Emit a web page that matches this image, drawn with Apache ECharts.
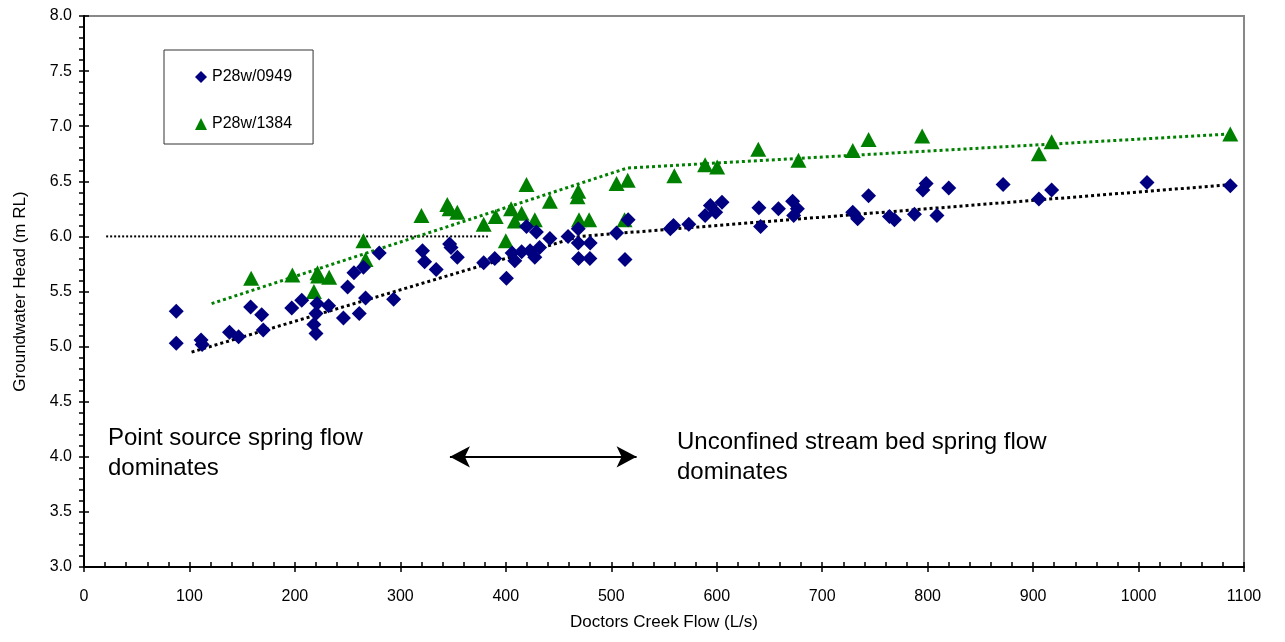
<!DOCTYPE html>
<html><head><meta charset="utf-8">
<script src="https://cdn.jsdelivr.net/npm/echarts@6/dist/echarts.min.js"></script>
<style>html,body{margin:0;padding:0;background:#fff}#c{width:1285px;height:642px}</style>
</head><body><div id="c"></div>
<script>
const seriesNames = ['P28w/0949', 'P28w/1384'];
const flow0949 = [87.5,87.5,111,112,138,146.6,158,168.5,170,197,206.5,221,220,218,220,232,246,250,256,265,280,261,267,293.6,321,323,334,346.7,348,354,379,389.5,400.6,408.5,406,415,423,427.5,432,419.6,429,441.8,459,468.7,468.7,480,469,479.7,505,513,516,556,559,573.5,589,594,599,605,640,641.6,658.5,672,676.5,673,729,733.6,744,763.8,768.5,787.5,795.5,798.6,808.8,820,871.6,905.5,917.6,1008,1087];
const head0949 = [5.32,5.03,5.06,5.02,5.13,5.09,5.36,5.29,5.15,5.35,5.42,5.39,5.30,5.20,5.12,5.37,5.26,5.54,5.67,5.72,5.85,5.30,5.44,5.43,5.87,5.77,5.70,5.93,5.90,5.81,5.76,5.80,5.62,5.78,5.85,5.86,5.87,5.81,5.90,6.09,6.04,5.98,6.00,6.07,5.94,5.94,5.80,5.80,6.03,5.79,6.15,6.07,6.10,6.11,6.19,6.28,6.22,6.31,6.26,6.09,6.25,6.32,6.25,6.19,6.22,6.16,6.37,6.18,6.15,6.20,6.42,6.48,6.19,6.44,6.47,6.34,6.42,6.49,6.46];
const flow1384 = [158.5,197.6,221.4,222,232.5,218,265,267,320,344.5,346.7,354,379,390.4,400,405,408.5,415,419.6,427.5,441.8,468.7,468,469.4,479,505,515.6,512.6,559.8,589,600.4,639.4,677.5,729,744,794.8,905.5,917.6,1087];
const head1384 = [5.62,5.65,5.67,5.64,5.63,5.50,5.96,5.79,6.19,6.29,6.25,6.22,6.11,6.18,5.96,6.25,6.14,6.21,6.47,6.15,6.32,6.41,6.36,6.15,6.15,6.48,6.51,6.15,6.55,6.65,6.63,6.79,6.69,6.78,6.88,6.91,6.75,6.86,6.93];
const trend0949X = [102, 470, 1088];
const trend0949Y = [4.95, 6.0, 6.47];
const trend1384X = [121, 515, 1088];
const trend1384Y = [5.39, 6.62, 6.93];
const refLineX = [21, 383];
const refLineY = [6.0, 6.0];
const arrowX = [347, 524];
const arrowY = 4.0;
const annotationLeft = 'Point source spring flow\ndominates';
const annotationRight = 'Unconfined stream bed spring flow\ndominates';
const xTitle = 'Doctors Creek Flow (L/s)';
const yTitle = 'Groundwater Head (m RL)';

const pairs = (xs, ys) => xs.map((x, i) => [x, Array.isArray(ys) ? ys[i] : ys]);
const FONT = '"Liberation Sans", Arial, sans-serif';

const chart = echarts.init(document.getElementById('c'), null, {renderer: 'canvas'});
const baseX = {type: 'value', min: 0, max: 1100, interval: 100, splitLine: {show: false}};
const baseY = {type: 'value', min: 3, max: 8, interval: 0.5, splitLine: {show: false}};
chart.setOption({
  animation: false,
  backgroundColor: '#fff',
  grid: {left: 84, right: 41, top: 16, bottom: 75, show: true, borderColor: '#888', borderWidth: 2},
  xAxis: [
    Object.assign({}, baseX, {
      position: 'bottom',
      axisLine: {lineStyle: {color: '#000', width: 2}},
      axisTick: {inside: true, length: 5, lineStyle: {color: '#000', width: 1.5}},
      minorTick: {show: true, splitNumber: 5, length: 5, lineStyle: {color: '#000', width: 1.5}},
      axisLabel: {fontSize: 16, color: '#000', fontFamily: FONT, margin: 22, formatter: v => String(v)},
      name: xTitle, nameLocation: 'middle', nameGap: 47,
      nameTextStyle: {fontSize: 17, color: '#000', fontFamily: FONT}
    }),
    Object.assign({}, baseX, {
      position: 'bottom', offset: 0,
      axisLine: {show: false},
      axisTick: {inside: false, length: 5, lineStyle: {color: '#000', width: 1.5}},
      axisLabel: {show: false}
    })
  ],
  yAxis: [
    Object.assign({}, baseY, {
      position: 'left',
      axisLine: {lineStyle: {color: '#000', width: 2}},
      axisTick: {inside: false, length: 5, lineStyle: {color: '#000', width: 1.5}},
      minorTick: {show: true, splitNumber: 5, length: 5, lineStyle: {color: '#000', width: 1.5}},
      axisLabel: {fontSize: 16, color: '#000', fontFamily: FONT, margin: 12, formatter: v => v.toFixed(1)},
      name: yTitle, nameLocation: 'middle', nameGap: 55, nameRotate: 90,
      nameTextStyle: {fontSize: 17, color: '#000', fontFamily: FONT}
    }),
    Object.assign({}, baseY, {
      position: 'left', offset: 0,
      axisLine: {show: false},
      axisTick: {inside: true, length: 5, lineStyle: {color: '#000', width: 1.5}},
      axisLabel: {show: false}
    })
  ],
  legend: {
    data: [{name: seriesNames[0], icon: 'diamond'}, {name: seriesNames[1], icon: 'triangle'}],
    orient: 'vertical', left: 164, top: 50,
    padding: [19, 21, 12, 31], itemGap: 31, itemWidth: 12, itemHeight: 12,
    backgroundColor: '#fff', borderColor: '#333', borderWidth: 1, borderRadius: 0,
    textStyle: {fontSize: 16, color: '#000', fontFamily: FONT},
    selectedMode: false
  },
  graphic: [
    {type: 'text', left: 108, top: 423, style: {text: annotationLeft, font: '24px ' + FONT, fill: '#000', lineHeight: 30}},
    {type: 'text', left: 677, top: 427, style: {text: annotationRight, font: '24px ' + FONT, fill: '#000', lineHeight: 30}}
  ],
  series: [
    {
      name: 'ref', type: 'line', data: pairs(refLineX, refLineY), showSymbol: false, silent: true,
      lineStyle: {color: '#000', width: 2, type: [2, 2]}, z: 1,
      markLine: {
        silent: true, symbol: ['arrow', 'arrow'], symbolSize: [16, 20], label: {show: false},
        lineStyle: {color: '#000', width: 2, type: 'solid'},
        data: [[{coord: [arrowX[0], arrowY]}, {coord: [arrowX[1], arrowY]}]]
      }
    },
    {name: 'trend0949', type: 'line', data: pairs(trend0949X, trend0949Y), showSymbol: false, silent: true,
      lineStyle: {color: '#000', width: 3, type: [3, 3], cap: 'butt'}, z: 1},
    {name: 'trend1384', type: 'line', data: pairs(trend1384X, trend1384Y), showSymbol: false, silent: true,
      lineStyle: {color: '#008000', width: 3, type: [3, 3], cap: 'butt'}, z: 1},
    {name: seriesNames[0], type: 'scatter', symbol: 'diamond', symbolSize: 15,
      itemStyle: {color: '#000080', opacity: 1}, data: pairs(flow0949, head0949), z: 3},
    {name: seriesNames[1], type: 'scatter', symbol: 'triangle', symbolSize: [16, 15],
      itemStyle: {color: '#008000', opacity: 1}, data: pairs(flow1384, head1384), z: 2}
  ]
});
</script>
</body></html>
